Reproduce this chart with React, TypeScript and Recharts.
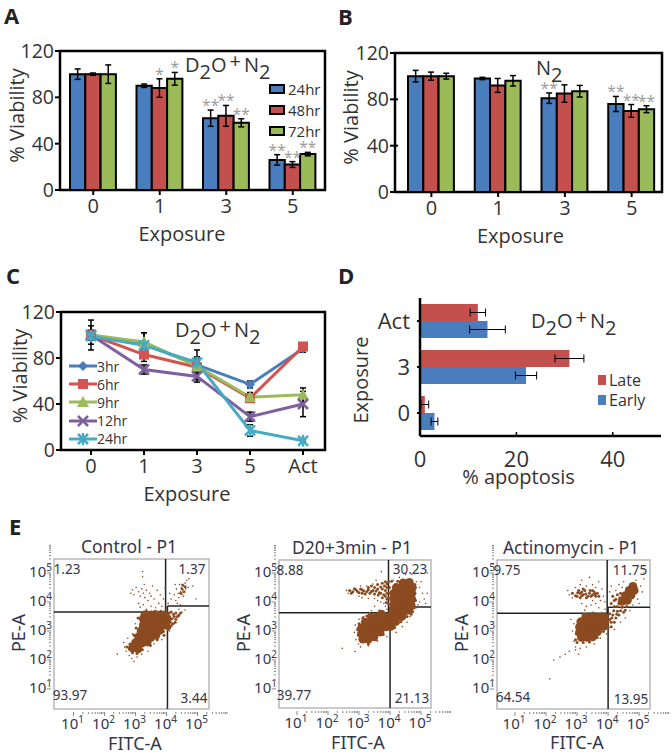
import {
  BarChart, Bar, LineChart, Line, ScatterChart, Scatter, XAxis, YAxis, ErrorBar, LabelList,
  Legend, ReferenceLine,
} from 'recharts'

const FONT = '"Open Sans", sans-serif'
const FLOW_FONT = '"Noto Sans", sans-serif'
const INK = '#333333'
const FLOW_INK = '#34364a'
const BLUE = '#4a7dbd'
const RED = '#c4504e'
const GREEN = '#9bbb59'
const PURPLE = '#7d5fa0'
const CYAN = '#46aac5'
const BROWN = '#8b4a20'
const PAGE_W = 672
const PAGE_H = 755

// panel A
const exposures = ['0', '1', '3', '5']
const a24 = [100, 90, 62, 26]
const a48 = [100, 88, 64, 22]
const a72 = [100, 96, 58, 31]
const a24Err = [4.5, 1.5, 7, 4.5]
const a48Err = [1, 8, 9, 2.5]
const a72Err = [8, 5.5, 3.5, 1.5]
const a24Stars = ['', '', '**', '**']
const a48Stars = ['', '*', '**', '**']
const a72Stars = ['', '*', '**', '**']

// panel B
const b24 = [100, 98, 81, 76]
const b48 = [100, 92, 85, 70]
const b72 = [100, 96, 87, 71.5]
const b24Err = [5, 1, 4.5, 6.5]
const b48Err = [3.5, 6, 7.5, 5.5]
const b72Err = [2.5, 4.5, 5, 3]
const b24Stars = ['', '', '**', '**']
const b48Stars = ['', '', '', '**']
const b72Stars = ['', '', '', '**']

// panel C
const lineExposures = ['0', '1', '3', '5', 'Act']
const c3 = [100, 92, 74, 57, 88]
const c6 = [100, 83, 72, 45, 90]
const c9 = [100, 94, 73, 46, 48]
const c12 = [100, 70, 64, 29, 40]
const c24 = [99, 91, 76, 17, 8]
const c3Err = [13, 10, 13, 3, 3]
const c6Err = [8, 6, 5, 3, 3]
const c9Err = [4, 8, 6, 4, 6]
const c12Err = [4, 4, 5, 4, 11]
const c24Err = [3, 3, 5, 5, 1]

// panel D
const apoptosisGroups = ['Act', '3', '0']
const late = [12, 31, 1]
const early = [14, 22, 3]
const lateErr = [1.6, 3, 0.8]
const earlyErr = [3.7, 2.2, 0.7]

// panel E, all in log10 units
const decades = [1, 2, 3, 4, 5]
const minorSteps = [0.3, 0.48, 0.6, 0.7, 0.78, 0.85, 0.9, 0.95]

const controlCore: number[][] = [
  [2.9, 2.42], [3.08, 2.38], [3.0, 2.6], [3.2, 2.58], [3.38, 2.62], [3.1, 2.8], [3.3, 2.8], [3.5, 2.78], [3.66, 2.86],
  [3.18, 3.0], [3.38, 3.0], [3.58, 3.0], [3.78, 3.02], [3.25, 3.2], [3.45, 3.2], [3.65, 3.2], [3.85, 3.2], [3.98, 3.2],
  [3.25, 3.42], [3.45, 3.42], [3.65, 3.42], [3.85, 3.42], [4.02, 3.4], [3.3, 3.55], [3.5, 3.55], [3.7, 3.55], [3.95, 3.55],
]
const controlMid: number[][] = [
  [4.1, 3.1], [4.2, 3.25], [4.3, 3.4], [4.4, 3.55], [4.25, 3.5], [4.15, 3.65], [4.3, 3.62], [2.82, 2.55], [2.8, 2.38], [3.9, 2.98],
  [4.05, 3.28], [3.08, 3.45], [3.62, 3.68], [3.35, 3.68], [3.82, 3.68], [4.5, 4.45], [4.56, 4.35], [4.6, 4.52],
  [4.12, 3.3], [4.18, 3.42], [4.1, 3.5], [4.22, 3.58], [4.35, 3.5], [4.08, 3.62], [4.28, 3.3], [4.45, 3.62], [4.15, 3.18], [4.05, 3.05],
  [2.72, 2.45], [2.9, 2.25], [3.05, 2.22], [3.22, 2.35], [3.48, 2.5], [3.7, 2.7], [3.92, 2.85], [2.95, 2.85], [3.02, 3.1], [4.52, 4.58], [4.46, 4.3],
]
const controlSparse: number[][] = [
  [2.85, 4.3], [2.9, 4.42], [2.95, 4.25], [3.02, 4.5], [3.1, 4.35], [3.15, 4.2], [3.2, 4.45], [3.25, 4.3], [3.28, 4.6], [3.3, 4.15],
  [3.23, 5.05], [3.23, 4.87], [3.35, 4.4], [3.4, 4.05], [3.45, 4.3], [3.5, 4.2], [3.55, 4.55], [3.6, 4.1], [3.7, 4.4], [3.75, 3.95],
  [3.8, 4.25], [3.9, 4.1], [3.95, 4.5], [3.1, 3.95], [3.15, 3.82], [3.25, 3.9], [3.35, 3.75], [3.5, 3.85], [3.65, 3.8], [3.85, 3.85],
  [4.0, 3.78], [4.05, 3.95], [4.1, 4.3], [4.15, 4.1], [4.2, 3.85], [4.25, 4.25], [4.3, 4.05], [4.32, 4.45], [4.38, 4.3], [4.4, 4.15],
  [4.42, 4.6], [4.45, 4.35], [4.48, 4.5], [4.5, 4.25], [4.52, 4.42], [4.55, 4.55], [4.58, 4.35], [4.6, 4.65], [4.62, 4.45], [4.65, 4.75],
  [4.7, 4.5], [4.35, 3.95], [4.45, 3.9], [4.85, 4.55], [4.95, 4.1], [4.55, 4.2], [4.28, 4.6], [4.72, 4.8], [2.41, 2.2], [2.62, 2.6],
  [2.65, 2.45], [2.7, 2.3], [2.75, 2.75], [2.8, 2.15], [2.88, 2.05], [2.95, 1.95], [3.05, 2.1], [3.2, 2.2], [3.4, 2.3], [3.6, 2.55],
  [3.85, 2.7], [4.1, 3.0], [4.25, 3.25], [4.4, 3.5], [4.5, 3.65], [4.6, 3.72], [4.4, 3.75], [4.3, 3.6], [2.9, 2.9], [3.0, 3.25], [3.08, 3.45],
]

const d20Core: number[][] = [
  [3.12, 2.72], [3.3, 2.72], [3.48, 2.8], [3.08, 2.92], [3.28, 2.92], [3.48, 2.96], [3.68, 2.96], [3.08, 3.1], [3.28, 3.12], [3.48, 3.14],
  [3.68, 3.14], [3.88, 3.14], [4.02, 3.16], [3.2, 3.3], [3.4, 3.32], [3.6, 3.32], [3.8, 3.32], [4.0, 3.32], [4.18, 3.32], [3.4, 3.48],
  [3.6, 3.48], [3.8, 3.5], [4.0, 3.5], [4.2, 3.5], [4.38, 3.5], [3.72, 3.58], [4.1, 3.7], [4.3, 3.7], [4.5, 3.7], [4.62, 3.72],
  [4.12, 3.9], [4.32, 3.9], [4.52, 3.9], [4.68, 3.9], [4.12, 4.1], [4.32, 4.1], [4.52, 4.1], [4.7, 4.1], [4.12, 4.3], [4.32, 4.3],
  [4.52, 4.3], [4.7, 4.3], [4.2, 4.5], [4.4, 4.5], [4.6, 4.5], [4.72, 4.5], [4.42, 4.66], [4.62, 4.68],
]
const d20Mid: number[][] = [
  [2.7, 4.4], [2.8, 4.35], [2.9, 4.42], [3.0, 4.32], [3.05, 4.45], [3.15, 4.38], [3.2, 4.28], [3.3, 4.42], [3.35, 4.3], [3.45, 4.4],
  [3.5, 4.28], [3.6, 4.45], [3.65, 4.32], [3.75, 4.45], [3.8, 4.25], [3.9, 4.5], [3.95, 4.3], [3.4, 4.55], [3.6, 4.6], [3.75, 4.65],
  [3.85, 4.7], [3.95, 4.7], [3.9, 4.1], [3.95, 3.95], [3.85, 4.4], [3.95, 4.15],
  [2.75, 4.3], [2.85, 4.46], [2.95, 4.36], [3.1, 4.3], [3.1, 4.42], [3.25, 4.36], [3.4, 4.36], [3.55, 4.38], [3.7, 4.3], [3.7, 4.52],
  [3.82, 4.55], [3.9, 4.3], [3.98, 4.5], [3.85, 4.2], [3.9, 4.62], [3.75, 4.15], [3.5, 4.5], [3.3, 4.5], [3.62, 4.24], [3.88, 3.98],
  [2.98, 2.85], [2.95, 3.05], [3.0, 3.25], [3.12, 3.45], [3.25, 3.52], [3.3, 2.55], [3.55, 2.7], [3.78, 2.88], [4.15, 3.12], [4.35, 3.32], [4.55, 3.5], [4.68, 3.58],
  [4.05, 4.72], [4.25, 4.72], [4.8, 4.3], [4.82, 4.05], [4.78, 3.8], [4.8, 4.6], [3.55, 3.58], [3.35, 3.6],
]
const d20Sparse: number[][] = [
  [2.6, 4.4], [2.65, 4.3], [3.0, 4.2], [3.1, 4.15], [3.3, 4.12], [3.5, 4.12], [3.6, 4.05], [3.7, 4.0], [3.8, 3.95], [3.85, 3.85],
  [3.9, 3.75], [3.5, 3.85], [3.4, 3.7], [3.65, 3.72], [3.25, 4.55], [3.45, 4.62], [3.05, 4.55], [3.72, 5.05], [3.55, 4.75], [4.1, 4.75],
  [4.3, 4.85], [4.5, 4.95], [4.7, 4.95], [4.85, 4.7], [4.95, 4.5], [5.05, 4.3], [5.1, 4.1], [4.95, 4.0], [5.0, 4.7], [5.2, 4.3],
  [5.15, 3.95], [4.9, 3.9], [5.2, 5.0], [4.85, 3.8], [4.75, 3.65], [4.65, 3.5], [4.55, 3.3], [4.4, 3.15], [4.2, 2.95], [3.9, 2.8],
  [3.6, 2.65], [3.3, 2.48], [3.05, 2.45], [2.9, 2.7], [2.85, 2.95], [2.88, 3.2], [3.0, 3.4], [3.15, 3.5], [2.46, 2.4], [2.87, 2.29], [2.98, 2.55],
]

const actCore: number[][] = [
  [3.14, 2.78], [3.32, 2.78], [3.5, 2.8], [3.08, 2.96], [3.28, 2.96], [3.48, 2.96], [3.66, 2.98], [3.08, 3.14], [3.28, 3.14], [3.48, 3.14],
  [3.68, 3.14], [3.86, 3.16], [3.12, 3.32], [3.32, 3.32], [3.52, 3.32], [3.72, 3.32], [3.9, 3.32], [3.28, 3.48], [3.48, 3.48], [3.68, 3.48],
  [3.88, 3.48], [4.45, 4.02], [4.62, 4.06], [4.56, 4.22], [4.74, 4.24], [4.68, 4.4], [4.84, 4.4], [4.8, 4.54],
]
const actMid: number[][] = [
  [4.1, 3.15], [4.05, 3.4], [4.2, 3.3], [4.25, 3.45], [4.35, 3.55], [4.5, 3.65], [4.15, 3.55], [4.3, 3.68], [4.6, 3.85], [4.45, 3.82],
  [2.85, 4.3], [3.0, 4.2], [3.1, 4.3], [3.1, 4.15], [3.2, 4.25], [3.25, 4.4], [3.3, 4.15], [3.4, 4.3], [3.45, 4.2], [3.55, 4.35],
  [3.6, 4.2], [3.65, 4.3], [3.2, 4.45], [3.05, 4.4], [3.5, 4.4], [4.15, 4.2], [4.25, 4.1], [4.1, 3.95], [4.35, 3.95], [4.2, 3.85], [4.4, 4.3],
  [2.95, 2.7], [2.98, 2.9], [3.0, 3.1], [3.05, 3.35], [3.2, 3.58], [3.5, 3.62], [3.8, 3.6],
  [2.95, 4.22], [3.02, 4.32], [3.15, 4.22], [3.28, 4.28], [3.35, 4.2], [3.42, 4.4], [3.5, 4.25], [3.58, 4.28], [3.7, 4.2], [3.15, 4.35],
  [4.1, 3.3], [4.12, 3.45], [4.28, 3.58], [4.4, 3.7], [4.18, 3.7], [4.05, 3.6], [4.55, 3.72], [4.3, 3.85], [4.38, 4.15], [4.3, 4.25], [4.2, 4.05],
  [3.0, 2.6], [3.2, 2.6], [3.4, 2.62], [3.65, 2.78], [3.85, 2.98], [4.0, 3.12],
]
const actSparse: number[][] = [
  [2.7, 4.4], [2.75, 4.25], [2.85, 4.15], [2.95, 4.5], [3.1, 4.6], [3.15, 4.75], [3.3, 4.55], [3.4, 4.85], [3.5, 4.6], [3.6, 4.5],
  [3.7, 4.7], [3.8, 4.45], [3.85, 4.2], [3.9, 4.0], [3.75, 4.05], [3.6, 3.95], [3.45, 3.9], [3.3, 3.85], [3.15, 3.95], [3.5, 4.05],
  [3.7, 3.8], [3.9, 3.75], [3.25, 3.72], [4.05, 4.35], [4.1, 4.55], [4.25, 4.4], [4.35, 4.6], [4.45, 4.5], [4.5, 4.7], [4.6, 4.45],
  [4.9, 4.75], [5.05, 4.55], [5.15, 4.8], [5.1, 4.35], [4.95, 4.1], [5.0, 3.95], [4.8, 3.9], [5.15, 5.0], [4.7, 3.7], [4.55, 3.45],
  [4.4, 3.3], [4.2, 3.05], [3.95, 2.9], [3.75, 2.75], [3.55, 2.55], [3.3, 2.45], [3.1, 2.4], [2.95, 2.45], [2.9, 2.65], [2.85, 3.0],
  [2.9, 3.25], [2.8, 3.4], [2.95, 2.35], [3.05, 2.2], [2.75, 2.3], [2.62, 2.2], [2.45, 2.1], [2.25, 2.0], [2.12, 1.35],
]

const toPoints = (rows: number[][]) => rows.map(([x, y]) => ({x, y}))
const logTicks = decades.flatMap((d) => [d, ...minorSteps.map((m) => d + m)])

const Note = ({x, y, size, children, weight, color, font, center, rotate}: any) => (
  <div style={{
    position: 'absolute', left: x, top: y, fontSize: size, fontWeight: weight || 400, color: color || INK,
    fontFamily: font || FONT, lineHeight: 1, whiteSpace: 'nowrap',
    transform: `translate(${center ? '-50%' : '0'}, -50%)${rotate ? ' rotate(-90deg)' : ''}`,
  }}>{children}</div>
)

const D2oN2 = ({x, y}: any) => (
  <Note x={x} y={y} size={20}>
    D<span style={{position: 'relative', top: 7}}>2</span>O
    <span style={{position: 'relative', top: -4, margin: '0 3px'}}>+</span>
    N<span style={{position: 'relative', top: 7}}>2</span>
  </Note>
)

const Layer = ({children}: any) => (
  <div style={{position: 'absolute', left: 0, top: 0, width: PAGE_W, height: PAGE_H}}>{children}</div>
)

const starLabel = (errors: number[]) => (props: any) => {
  if (!props.value) return null
  const top = props.y - errors[props.index] * (139 / 120)
  return (
    <text x={props.x + props.width / 2} y={top + 1} textAnchor="middle" fontSize={15.5} fill="#9c9c9c" fontFamily={FONT}>
      {props.value}
    </text>
  )
}

const barLegend = (entries: string[][], left: number, top: number) => (
  <Legend
    layout="horizontal" verticalAlign="middle" align="center"
    wrapperStyle={{left, top, width: 80}}
    content={() => (
      <div>
        {entries.map(([name, color]) => (
          <div key={name} style={{display: 'flex', alignItems: 'center', height: 20.7, fontFamily: FONT, fontSize: 15, color: INK}}>
            <span style={{width: 12, height: 6, background: color, border: '2px solid #000', marginRight: 3}} />
            {name}
          </div>
        ))}
      </div>
    )}
  />
)

const VIABILITY_TICKS = [0, 40, 80, 120]
const blackTick = {stroke: '#000', strokeWidth: 2}

const ViabilityBars = ({plot, frameLeft, frameRight, v24, v48, v72, e24, e48, e72, s24, s48, s72, titleDx, yTitleDx, legend}: any) => {
  const data = exposures.map((name, i) => ({
    name, v24: v24[i], v48: v48[i], v72: v72[i], e24: e24[i], e48: e48[i], e72: e72[i], s24: s24[i], s48: s48[i], s72: s72[i],
  }))
  return (
    <Layer>
      <BarChart
        width={PAGE_W} height={PAGE_H} data={data} barSize={15.3} barGap={0}
        margin={{left: plot.left - 50, top: plot.top, right: PAGE_W - plot.right, bottom: PAGE_H - plot.bottom - 62}}
      >
        <XAxis
          dataKey="name" height={62} axisLine={false} tickLine={blackTick} tickSize={5} tickMargin={4}
          tick={{fontSize: 20, fill: INK, fontFamily: FONT}}
          label={{value: 'Exposure', position: 'insideBottom', dx: titleDx, dy: -6, fontSize: 20, fill: INK, fontFamily: FONT}}
        />
        <YAxis
          width={50} domain={[0, 120]} ticks={VIABILITY_TICKS} axisLine={false} tickLine={blackTick} tickSize={plot.left - frameLeft + 5} tickMargin={1}
          tick={{fontSize: 19.5, fill: INK, fontFamily: FONT}}
          label={{value: '% Viability', angle: -90, position: 'insideLeft', dx: yTitleDx, dy: -5, textAnchor: 'middle', fontSize: 20, fill: INK, fontFamily: FONT}}
        />
        <Bar dataKey="v24" name="24hr" fill={BLUE} stroke="#000" strokeWidth={2} isAnimationActive={false}>
          <ErrorBar dataKey="e24" width={3} stroke="#000" strokeWidth={1.5} />
          <LabelList dataKey="s24" content={starLabel(e24)} />
        </Bar>
        <Bar dataKey="v48" name="48hr" fill={RED} stroke="#000" strokeWidth={2} isAnimationActive={false}>
          <ErrorBar dataKey="e48" width={3} stroke="#000" strokeWidth={1.5} />
          <LabelList dataKey="s48" content={starLabel(e48)} />
        </Bar>
        <Bar dataKey="v72" name="72hr" fill={GREEN} stroke="#000" strokeWidth={2} isAnimationActive={false}>
          <ErrorBar dataKey="e72" width={3} stroke="#000" strokeWidth={1.5} />
          <LabelList dataKey="s72" content={starLabel(e72)} />
        </Bar>
        {legend}
        <rect x={frameLeft} y={plot.top} width={frameRight - frameLeft} height={plot.bottom - plot.top} fill="none" stroke="#000" strokeWidth={2.5} />
      </BarChart>
    </Layer>
  )
}

const Marker = ({cx, cy, kind, color}: any) => {
  if (cx == null || cy == null) return null
  if (kind === 'diamond') return <path d={`M${cx} ${cy - 5}L${cx + 5} ${cy}L${cx} ${cy + 5}L${cx - 5} ${cy}Z`} fill={color} />
  if (kind === 'square') return <rect x={cx - 5} y={cy - 5} width={10} height={10} fill={color} />
  if (kind === 'triangle') return <path d={`M${cx} ${cy - 6}L${cx + 6} ${cy + 5}L${cx - 6} ${cy + 5}Z`} fill={color} />
  const cross = `M${cx - 5} ${cy - 5}L${cx + 5} ${cy + 5}M${cx + 5} ${cy - 5}L${cx - 5} ${cy + 5}`
  if (kind === 'x') return <path d={cross} stroke={color} strokeWidth={2.5} fill="none" />
  return <path d={`${cross}M${cx} ${cy - 6}V${cy + 6}`} stroke={color} strokeWidth={2.5} fill="none" />
}

const lineSeries = [
  {key: 'c3', name: '3hr', color: BLUE, kind: 'diamond'},
  {key: 'c6', name: '6hr', color: '#d2534f', kind: 'square'},
  {key: 'c9', name: '9hr', color: GREEN, kind: 'triangle'},
  {key: 'c12', name: '12hr', color: PURPLE, kind: 'x'},
  {key: 'c24', name: '24hr', color: CYAN, kind: 'star'},
]

const ViabilityLines = () => {
  const data = lineExposures.map((name, i) => ({
    name, c3: c3[i], c6: c6[i], c9: c9[i], c12: c12[i], c24: c24[i],
    c3Err: c3Err[i], c6Err: c6Err[i], c9Err: c9Err[i], c12Err: c12Err[i], c24Err: c24Err[i],
  }))
  return (
    <Layer>
      <LineChart width={PAGE_W} height={PAGE_H} data={data} margin={{left: 11, top: 312, right: PAGE_W - 325, bottom: PAGE_H - 450 - 62}}>
        <XAxis
          dataKey="name" height={62} axisLine={false} padding={{left: 30, right: 22}} tickLine={blackTick} tickSize={5} tickMargin={4}
          tick={{fontSize: 20, fill: INK, fontFamily: FONT}}
          label={{value: 'Exposure', position: 'insideBottom', dx: -6, dy: -6, fontSize: 20, fill: INK, fontFamily: FONT}}
        />
        <YAxis
          width={50} domain={[0, 120]} ticks={VIABILITY_TICKS} axisLine={false} tickLine={blackTick} tickSize={5} tickMargin={1}
          tick={{fontSize: 19.5, fill: INK, fontFamily: FONT}}
          label={{value: '% Viability', angle: -90, position: 'insideLeft', dx: 4, dy: -5, textAnchor: 'middle', fontSize: 20, fill: INK, fontFamily: FONT}}
        />
        {lineSeries.map((s) => (
          <Line
            key={s.key} dataKey={s.key} name={s.name} stroke={s.color} strokeWidth={3} isAnimationActive={false}
            dot={<Marker kind={s.kind} color={s.color} />}
          >
            <ErrorBar dataKey={`${s.key}Err`} width={3} stroke="#000" strokeWidth={1.5} />
          </Line>
        ))}
        <Legend
          layout="horizontal" verticalAlign="middle" align="center"
          wrapperStyle={{left: 69, top: 357, width: 70}}
          content={() => (
            <div>
              {lineSeries.map((s) => (
                <div key={s.key} style={{display: 'flex', alignItems: 'center', height: 18.2, fontFamily: FONT, fontSize: 14, color: INK}}>
                  <svg width={28} height={12}>
                    <line x1={0} x2={28} y1={6} y2={6} stroke={s.color} strokeWidth={3} />
                    <Marker cx={14} cy={6} kind={s.kind} color={s.color} />
                  </svg>
                  {s.name}
                </div>
              ))}
            </div>
          )}
        />
        <rect x={61} y={312} width={264} height={138} fill="none" stroke="#000" strokeWidth={2.5} />
      </LineChart>
    </Layer>
  )
}

const ApoptosisTick = ({x, y, payload}: any) => (
  <g>
    <line x1={x} x2={x} y1={436} y2={432} stroke="#000" strokeWidth={1.5} />
    <text x={x} y={y + 23} textAnchor="middle" fontSize={22} fill={INK} fontFamily={FONT}>{payload.value}</text>
  </g>
)

const ApoptosisBars = () => {
  const data = apoptosisGroups.map((name, i) => ({
    name, late: late[i], early: early[i], lateErr: lateErr[i], earlyErr: earlyErr[i],
  }))
  return (
    <Layer>
      <BarChart
        layout="vertical" width={PAGE_W} height={PAGE_H} data={data} barSize={17} barGap={0}
        margin={{left: 340, top: 298, right: PAGE_W - 661, bottom: PAGE_H - 436 - 60}}
      >
        <XAxis
          type="number" domain={[0, 50]} ticks={[0, 20, 40]} height={60} axisLine={{stroke: '#000', strokeWidth: 2.5}} tickLine={false}
          tick={<ApoptosisTick />}
          label={{value: '% apoptosis', position: 'insideBottom', dx: -22, dy: -7, fontSize: 20, fill: INK, fontFamily: FONT}}
        />
        <YAxis
          type="category" dataKey="name" width={80} axisLine={{stroke: '#000', strokeWidth: 2.5}} tickLine={blackTick} tickSize={3} tickMargin={7}
          tick={{fontSize: 22, fill: INK, fontFamily: FONT}}
          label={{value: 'Exposure', angle: -90, position: 'insideLeft', dx: 16, dy: 13, textAnchor: 'middle', fontSize: 20, fill: INK, fontFamily: FONT}}
        />
        <Bar dataKey="late" name="Late" fill={RED} isAnimationActive={false}>
          <ErrorBar dataKey="lateErr" direction="x" width={4} stroke="#000" strokeWidth={1} />
        </Bar>
        <Bar dataKey="early" name="Early" fill={BLUE} isAnimationActive={false}>
          <ErrorBar dataKey="earlyErr" direction="x" width={4} stroke="#000" strokeWidth={1} />
        </Bar>
        <Legend
          layout="horizontal" verticalAlign="middle" align="center"
          wrapperStyle={{left: 598, top: 370, width: 70}}
          content={() => (
            <div>
              {[['Late', RED], ['Early', BLUE]].map(([name, color]) => (
                <div key={name} style={{display: 'flex', alignItems: 'center', height: 20, fontFamily: FONT, fontSize: 16, color: INK}}>
                  <span style={{width: 8, height: 10, background: color, marginRight: 3}} />
                  {name}
                </div>
              ))}
            </div>
          )}
        />
      </BarChart>
    </Layer>
  )
}

const LogTickX = ({x, y, payload}: any) => {
  const major = Number.isInteger(payload.value)
  return (
    <g>
      <line x1={x} x2={x} y1={y - 5} y2={y - 5 + (major ? 4 : 2)} stroke="#8a8a8a" />
      {major && (
        <text x={x - 1} y={y + 12} textAnchor="middle" fontSize={15} fill={FLOW_INK} fontFamily={FLOW_FONT}>
          10<tspan dy={-6} fontSize={10}>{payload.value}</tspan>
        </text>
      )}
    </g>
  )
}

const LogTickY = ({x, y, payload}: any) => {
  const major = Number.isInteger(payload.value)
  return (
    <g>
      <line x1={x + 5} x2={x + 5 - (major ? 4 : 2)} y1={y} y2={y} stroke="#8a8a8a" />
      {major && (
        <text x={x + 6} y={y + 4} textAnchor="end" fontSize={15} fill={FLOW_INK} fontFamily={FLOW_FONT}>
          10<tspan dy={-6} fontSize={10}>{payload.value}</tspan>
        </text>
      )}
    </g>
  )
}

const flowDot = (r: number) => (p: any) => <circle cx={p.cx} cy={p.cy} r={r} fill={BROWN} />

const FlowPanel = ({plot, xDomain, yDomain, core, mid, sparse, hLeft, hRight, vTop, vBottom}: any) => {
  const [x0, x1] = xDomain
  const [y0, y1] = yDomain
  return (
    <Layer>
      <ScatterChart
        width={PAGE_W} height={PAGE_H}
        margin={{left: plot.left - 40, top: plot.top, right: PAGE_W - plot.right, bottom: PAGE_H - plot.bottom - 30}}
      >
        <XAxis
          type="number" dataKey="x" domain={xDomain} ticks={logTicks} interval={0} height={30} axisLine={false} tickLine={false}
          tick={<LogTickX />} allowDataOverflow
        />
        <YAxis
          type="number" dataKey="y" domain={yDomain} ticks={logTicks} interval={0} width={40} axisLine={false} tickLine={false}
          tick={<LogTickY />} allowDataOverflow
        />
        <Scatter data={toPoints(sparse)} shape={flowDot(0.8)} isAnimationActive={false} />
        <Scatter data={toPoints(mid)} shape={flowDot(1.5)} isAnimationActive={false} />
        <Scatter data={toPoints(core)} shape={flowDot(4.4)} isAnimationActive={false} />
        <ReferenceLine segment={[{x: x0, y: hLeft}, {x: vBottom, y: hLeft}]} stroke="#222" strokeWidth={1.5} />
        <ReferenceLine segment={[{x: vBottom, y: hRight}, {x: x1, y: hRight}]} stroke="#222" strokeWidth={1.5} />
        <ReferenceLine segment={[{x: vTop, y: hLeft}, {x: vTop, y: y1}]} stroke="#222" strokeWidth={1.5} />
        <ReferenceLine segment={[{x: vBottom, y: y0}, {x: vBottom, y: hRight}]} stroke="#222" strokeWidth={1.5} />
        <rect x={plot.left} y={plot.top} width={plot.right - plot.left} height={plot.bottom - plot.top} fill="none" stroke="#b8b8b8" strokeWidth={1.5} />
      </ScatterChart>
    </Layer>
  )
}

const FlowText = ({x, y, size, children, rotate}: any) => (
  <Note x={x} y={y} size={size} color={FLOW_INK} font={FLOW_FONT} center rotate={rotate}>{children}</Note>
)

const App = () => (
  <div style={{position: 'absolute', left: 0, top: 0, width: PAGE_W, height: PAGE_H, background: '#fff', overflow: 'hidden'}}>
    <ViabilityBars
      plot={{left: 60, right: 326, top: 51, bottom: 190}} frameLeft={60} frameRight={325}
      v24={a24} v48={a48} v72={a72} e24={a24Err} e48={a48Err} e72={a72Err} s24={a24Stars} s48={a48Stars} s72={a72Stars}
      titleDx={-11} yTitleDx={2} legend={barLegend([['24hr', BLUE], ['48hr', RED], ['72hr', GREEN]], 269, 79)}
    />
    <ViabilityBars
      plot={{left: 398, right: 665, top: 53, bottom: 192}} frameLeft={395} frameRight={662}
      v24={b24} v48={b48} v72={b72} e24={b24Err} e48={b48Err} e72={b72Err} s24={b24Stars} s48={b48Stars} s72={b72Stars}
      titleDx={-11} yTitleDx={-2}
    />
    <ViabilityLines />
    <ApoptosisBars />
    <FlowPanel
      plot={{left: 54, right: 209, top: 559, bottom: 709}} xDomain={[0.37, 5.37]} yDomain={[0.31, 5.48]}
      core={controlCore} mid={controlMid} sparse={controlSparse} hLeft={3.655} hRight={3.86} vTop={3.97} vBottom={4.03}
    />
    <FlowPanel
      plot={{left: 279, right: 431, top: 560, bottom: 708}} xDomain={[0.42, 5.32]} yDomain={[0.34, 5.45]}
      core={d20Core} mid={d20Mid} sparse={d20Sparse} hLeft={3.63} hRight={3.83} vTop={3.95} vBottom={4.0}
    />
    <FlowPanel
      plot={{left: 497, right: 650, top: 560, bottom: 709}} xDomain={[0.42, 5.35]} yDomain={[0.31, 5.45]}
      core={actCore} mid={actMid} sparse={actSparse} hLeft={3.61} hRight={3.82} vTop={3.97} vBottom={4.0}
    />

    <Note x={4} y={15} size={22} weight={700} color="#222">A</Note>
    <Note x={338} y={16} size={22} weight={700} color="#222">B</Note>
    <Note x={6} y={275} size={22} weight={700} color="#222">C</Note>
    <Note x={338} y={275} size={22} weight={700} color="#222">D</Note>
    <Note x={9} y={526} size={22} weight={700} color="#222">E</Note>

    <D2oN2 x={185} y={65} />
    <Note x={536} y={68} size={20}>N<span style={{position: 'relative', top: 7}}>2</span></Note>
    <D2oN2 x={175} y={330} />
    <D2oN2 x={531} y={321} />

    <FlowText x={129} y={547} size={17.5}>Control - P1</FlowText>
    <FlowText x={352} y={548} size={17.5}>D20+3min - P1</FlowText>
    <FlowText x={571} y={548} size={17.5}>Actinomycin - P1</FlowText>
    <FlowText x={18} y={633} size={18} rotate>PE-A</FlowText>
    <FlowText x={243} y={633} size={18} rotate>PE-A</FlowText>
    <FlowText x={461} y={633} size={18} rotate>PE-A</FlowText>
    <FlowText x={135} y={743} size={18}>FITC-A</FlowText>
    <FlowText x={358} y={742} size={18}>FITC-A</FlowText>
    <FlowText x={577} y={742} size={18}>FITC-A</FlowText>

    <FlowText x={67} y={570} size={13.5}>1.23</FlowText>
    <FlowText x={192} y={570} size={13.5}>1.37</FlowText>
    <FlowText x={70} y={696} size={13.5}>93.97</FlowText>
    <FlowText x={194} y={699} size={13.5}>3.44</FlowText>
    <FlowText x={290} y={571} size={13.5}>8.88</FlowText>
    <FlowText x={410} y={570} size={13.5}>30.23</FlowText>
    <FlowText x={294} y={696} size={13.5}>39.77</FlowText>
    <FlowText x={412} y={699} size={13.5}>21.13</FlowText>
    <FlowText x={507} y={571} size={13.5}>9.75</FlowText>
    <FlowText x={630} y={571} size={13.5}>11.75</FlowText>
    <FlowText x={513} y={698} size={13.5}>64.54</FlowText>
    <FlowText x={631} y={700} size={13.5}>13.95</FlowText>
  </div>
)

export default App
